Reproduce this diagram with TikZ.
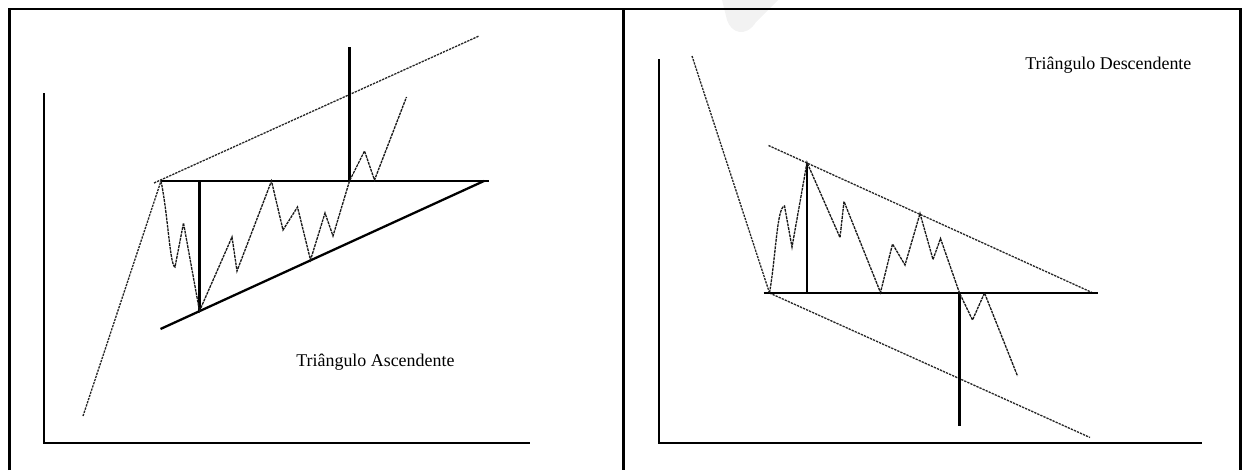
\documentclass[tikz,border=0pt]{standalone}
\usepackage{fontspec}
\setmainfont{Liberation Serif}
\usetikzlibrary{positioning}

\begin{document}
\begin{tikzpicture}[
    x=0.02cm, y=-0.02cm,
    frame/.style={line width=1.3pt},
    axis/.style={line width=1.3pt},
    level/.style={line width=1.3pt},
    trend/.style={line width=0.75pt, dash pattern=on 1.3pt off 0.6pt, black!85},
    price/.style={line width=0.75pt, dash pattern=on 1.6pt off 0.5pt, black!90},
    caption/.style={font=\fontsize{10.2}{12}\selectfont, inner sep=0pt, anchor=west},
]
\useasboundingbox (0,0) rectangle (1247,470);

% faint mark at the top
\fill[black!5] (722,0) -- (727,20) .. controls (731,33) and (746,38) .. (756,22) -- (778,0) -- cycle;

% frames
\draw[frame] (9.5,470) |- (1240.5,9) -- (1240.5,470);
\draw[frame] (623.5,9) -- (623.5,470);

% ---- ascending triangle ----
\coordinate (ya) at (44,93);
\coordinate (oa) at (44,443);
\coordinate (xa) at (530,443);
\draw[axis] (ya) -- (oa) -- (xa);

\coordinate (starta) at (83,416);
\coordinate (topa) at (161,181);
\coordinate (reshi) at (489,181);
\coordinate (lowa) at (199.5,311);
\coordinate (supa) at (160.5,329);
\coordinate (supb) at (484,181);
\coordinate (channa) at (154,183);
\coordinate (channb) at (479,36);
\coordinate (breaka) at (349.5,181);
\coordinate (targeta) at (349.5,47);

\draw[trend] (starta) -- (topa);
\draw[trend] (channa) -- (channb);
\draw[level] (topa) -- (reshi);
\draw[level] (lowa |- topa) -- (lowa);
\draw[level] (supa) -- (supb);
\draw[level] (breaka) -- (targeta);

\draw[price] (topa) .. controls (168,215) and (170,266) .. (175,267)
  -- (183.5,223) -- (lowa) -- (232,237) -- (237,271) -- (271.5,181)
  -- (283,230) -- (297.5,207) -- (310.5,260) -- (325,213) -- (333,236)
  -- (breaka) -- (364.5,151) -- (374.5,180) -- (406.5,97);

\node[caption] (asc) at (296,362) {Triângulo Ascendente};

% ---- descending triangle ----
\coordinate (yd) at (659,59);
\coordinate (od) at (659,443);
\coordinate (xd) at (1202,443);
\draw[axis] (yd) -- (od) -- (xd);

\coordinate (startd) at (692,56);
\coordinate (botd) at (769.5,293);
\coordinate (suplo) at (763.5,293);
\coordinate (suphi) at (1098,293);
\coordinate (topd) at (807,162.5);
\coordinate (resa) at (768.5,145.5);
\coordinate (resb) at (1092,292.5);
\coordinate (chand) at (1090,437.5);
\coordinate (breakd) at (959.5,293);
\coordinate (targetd) at (959.5,426);

\draw[trend] (startd) -- (botd);
\draw[trend] (resa) -- (resb);
\draw[trend] (botd) -- (chand);
\draw[level] (suplo) -- (suphi);
\draw[level] (topd) -- (topd |- botd);
\draw[level] (breakd) -- (targetd);

\draw[price] (botd) .. controls (776,255) and (777,207) .. (784.5,206)
  -- (792,247) -- (topd) -- (840,237.5) -- (844,201.5) -- (880.5,292.5)
  -- (892.5,244) -- (905,265) -- (920,213.5) -- (933,259.5) -- (940.5,238.5)
  -- (breakd) -- (972.5,320) -- (984.5,293) -- (1017.5,376);

\node[caption] (desc) at (1025,65.5) {Triângulo Descendente};
\end{tikzpicture}
\end{document}
